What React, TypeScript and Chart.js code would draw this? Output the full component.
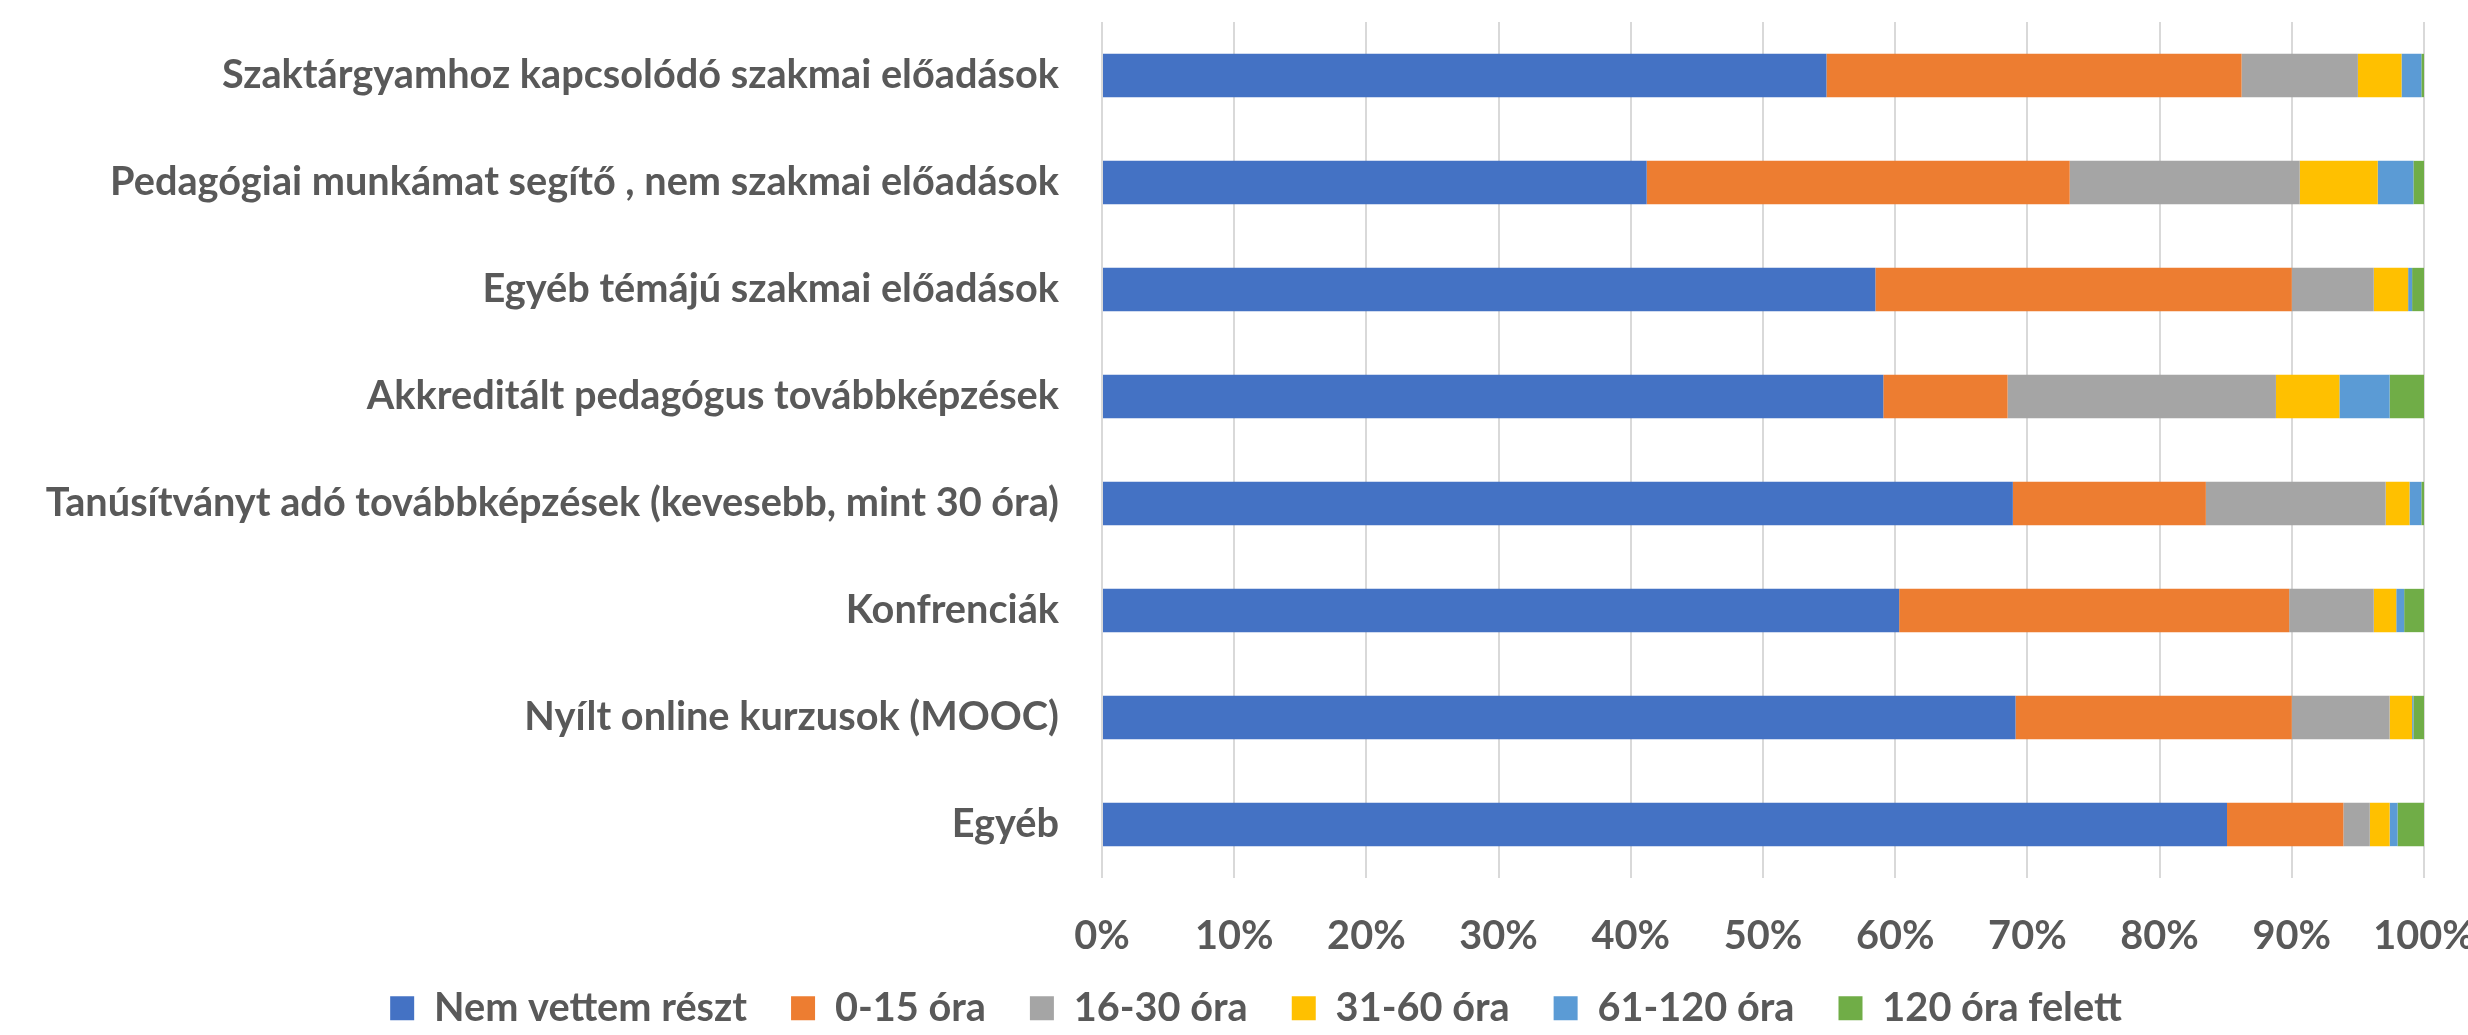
import React, { useEffect, useRef } from "react";
import { Chart, registerables } from "chart.js";

Chart.register(...registerables);

const categories = [
  "Szaktárgyamhoz kapcsolódó szakmai előadások",
  "Pedagógiai munkámat segítő , nem szakmai előadások",
  "Egyéb témájú szakmai előadások",
  "Akkreditált pedagógus továbbképzések",
  "Tanúsítványt adó továbbképzések (kevesebb, mint 30 óra)",
  "Konfrenciák",
  "Nyílt online kurzusok (MOOC)",
  "Egyéb",
];

const seriesNames = [
  "Nem vettem részt",
  "0-15 óra",
  "16-30 óra",
  "31-60 óra",
  "61-120 óra",
  "120 óra felett",
];

const nemVettemReszt = [54.8, 41.2, 58.5, 59.1, 68.9, 60.3, 69.1, 85.1];
const ora0_15 = [31.4, 32.0, 31.5, 9.4, 14.6, 29.5, 20.9, 8.8];
const ora16_30 = [8.8, 17.4, 6.2, 20.3, 13.6, 6.4, 7.4, 2.0];
const ora31_60 = [3.3, 5.9, 2.6, 4.8, 1.8, 1.7, 1.7, 1.5];
const ora61_120 = [1.5, 2.7, 0.3, 3.8, 0.9, 0.6, 0.1, 0.6];
const ora120felett = [0.2, 0.8, 0.9, 2.6, 0.2, 1.5, 0.8, 2.0];

const seriesValues = [nemVettemReszt, ora0_15, ora16_30, ora31_60, ora61_120, ora120felett];
const seriesColors = ["#4472C4", "#ED7D31", "#A5A5A5", "#FFC000", "#5B9BD5", "#70AD47"];

const xMin = 0;
const xMax = 100;
const xStep = 10;

const FONT = "Lato";
const TEXT_COLOR = "#595959";

function fitFontSize(text: string, target: number): number {
  const c = document.createElement("canvas").getContext("2d")!;
  c.font = `bold 100px ${FONT}`;
  const w = c.measureText(text).width;
  return Math.round(((100 * target) / w) * 10) / 10;
}

const legendOffsetPlugin = {
  id: "legendOffset",
  afterLayout(chart: any) {
    const lg = chart.legend;
    if (lg) {
      lg.left += 44;
      lg.right += 44;
    }
  },
};

export default function App() {
  const ref = useRef<HTMLCanvasElement | null>(null);

  useEffect(() => {
    const canvas = ref.current!;
    const fs = fitFontSize(categories[0], 838);
    const W = 2468;
    const H = Math.round(1018 + fs / 2);
    const legendPad = 44;
    const legendH = fs + legendPad + 10;
    const plotBottom = 878;
    const lineH = fs * 1.2;
    canvas.width = W;
    canvas.height = H;
    canvas.style.width = W + "px";
    canvas.style.height = H + "px";

    const font = { family: FONT, size: fs, weight: "bold" as const };

    const chart = new Chart(canvas, {
      type: "bar",
      data: {
        labels: categories,
        datasets: seriesNames.map((name, i) => ({
          label: name,
          data: seriesValues[i],
          backgroundColor: seriesColors[i],
          borderWidth: 0,
          barPercentage: 0.405,
          categoryPercentage: 1,
        })),
      },
      plugins: [legendOffsetPlugin],
      options: {
        indexAxis: "y",
        responsive: false,
        animation: false,
        devicePixelRatio: 1,
        layout: { padding: { left: 0, right: 44, top: 22, bottom: 0 } },
        plugins: {
          tooltip: { enabled: false },
          legend: {
            position: "bottom",
            labels: {
              font,
              color: TEXT_COLOR,
              boxWidth: 24,
              boxHeight: 24,
              padding: legendPad,
            },
          },
        },
        scales: {
          x: {
            stacked: true,
            min: xMin,
            max: xMax,
            ticks: {
              stepSize: xStep,
              font: { ...font, lineHeight: 1.2 },
              color: TEXT_COLOR,
              mirror: true,
              padding: -(58 + lineH / 2),
              maxRotation: 0,
              autoSkip: false,
              callback: (v: any) => v + "%",
            },
            grid: { color: "#D9D9D9", lineWidth: 2, drawTicks: false },
            border: { display: false },
            afterFit: (scale: any) => {
              scale.height = H - legendH - plotBottom;
            },
          },
          y: {
            stacked: true,
            ticks: { font: { ...font, lineHeight: 1 }, color: TEXT_COLOR, padding: 0, autoSkip: false },
            grid: { display: false, drawTicks: true, tickLength: 43 },
            border: { display: false },
            afterFit: (scale: any) => {
              scale.width = 1102;
            },
          },
        },
      },
    });
    return () => chart.destroy();
  }, []);

  return (
    <div
      style={{
        position: "fixed",
        left: 0,
        top: 0,
        width: 2468,
        height: 1035,
        overflow: "hidden",
        background: "#ffffff",
      }}
    >
      <canvas ref={ref} />
    </div>
  );
}
